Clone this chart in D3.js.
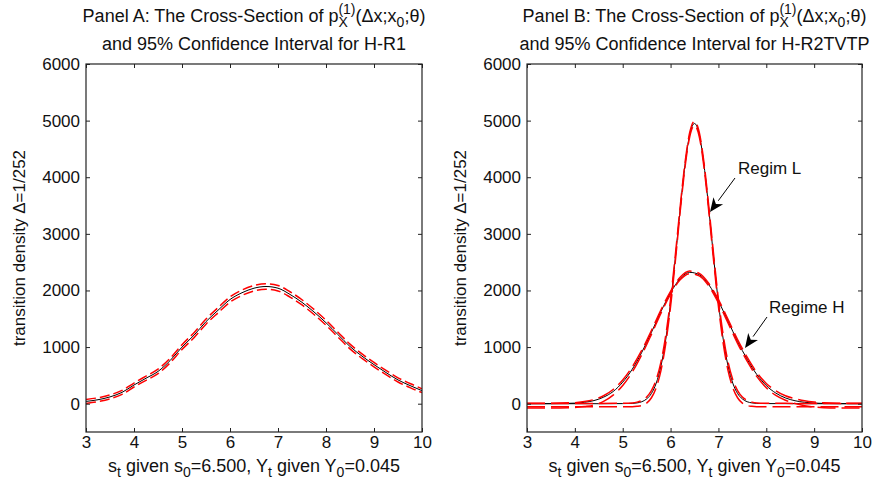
<!DOCTYPE html>
<html>
<head>
<meta charset="utf-8">
<script src="https://cdn.jsdelivr.net/npm/d3@7"></script>
<style>
  body { margin: 0; background: #fff; }
  text { font-family: "Liberation Sans", Arial, sans-serif; fill: #111; }
</style>
</head>
<body>
<div class="board"></div>
<script>
// ---- data ----
// Panel A (H-R1)
var aX    = [3, 3.25, 3.5, 3.75, 4, 4.25, 4.5, 4.75, 5, 5.25, 5.5, 5.75, 6, 6.25, 6.5, 6.75, 7, 7.25, 7.5, 7.75, 8, 8.25, 8.5, 8.75, 9, 9.25, 9.5, 9.75, 10];
var aEst  = [40, 70, 120, 200, 330, 450, 570, 760, 1000, 1210, 1450, 1650, 1840, 1960, 2040, 2070, 2040, 1930, 1790, 1620, 1430, 1220, 1010, 840, 690, 550, 420, 320, 230];
var aLow  = [5, 35, 85, 165, 295, 412, 530, 720, 958, 1166, 1405, 1604, 1793, 1912, 1992, 2022, 1992, 1883, 1744, 1575, 1386, 1177, 968, 800, 651, 512, 383, 284, 195];
var aHigh = [75, 105, 155, 235, 365, 488, 610, 800, 1042, 1254, 1495, 1696, 1887, 2008, 2088, 2118, 2088, 1977, 1836, 1665, 1474, 1263, 1052, 880, 729, 588, 457, 356, 265];

// Panel B (H-R2TVTP), regime H
var hX    = [3, 3.5, 4, 4.2, 4.4, 4.6, 4.8, 5, 5.2, 5.4, 5.6, 5.8, 6, 6.2, 6.4, 6.6, 6.8, 7, 7.2, 7.4, 7.6, 7.8, 8, 8.2, 8.4, 8.6, 8.8, 9, 9.2, 9.5, 10];
var hEst  = [0, 1, 10, 25, 55, 115, 215, 380, 610, 910, 1260, 1630, 1960, 2210, 2320, 2280, 2100, 1810, 1460, 1100, 786, 518, 320, 187, 102, 52, 25, 11, 5, 1, 0];
var hLow  = [-75, -75, -66, -50, -25, 40, 150, 322, 560, 868, 1225, 1600, 1935, 2188, 2298, 2258, 2076, 1782, 1428, 1066, 750, 482, 282, 146, 60, 2, -35, -58, -70, -75, -75];
var hHigh = [10, 10, 18, 38, 74, 140, 250, 418, 652, 946, 1292, 1658, 1984, 2232, 2342, 2302, 2124, 1838, 1492, 1134, 822, 554, 358, 228, 140, 88, 50, 28, 16, 10, 10];

// Panel B, regime L
var lX    = [3, 4.5, 5, 5.2, 5.3, 5.4, 5.5, 5.6, 5.7, 5.8, 5.9, 6, 6.1, 6.2, 6.3, 6.4, 6.5, 6.6, 6.7, 6.8, 6.9, 7, 7.1, 7.2, 7.3, 7.4, 7.5, 7.6, 7.7, 7.8, 8, 9, 10];
var lEst  = [0, 0, 2, 5, 14, 35, 84, 181, 363, 670, 1139, 1784, 2576, 3430, 4205, 4752, 4950, 4752, 4205, 3430, 2576, 1784, 1139, 670, 363, 181, 84, 35, 14, 5, 2, 0, 0];
var lLow  = [-55, -55, -54, -52, -46, -32, 10, 105, 285, 590, 1065, 1720, 2520, 3385, 4165, 4715, 4915, 4715, 4165, 3385, 2520, 1720, 1065, 590, 285, 105, 10, -32, -46, -52, -54, -55, -55];
var lHigh = [5, 5, 8, 14, 28, 58, 118, 232, 425, 740, 1210, 1845, 2630, 3475, 4245, 4790, 4990, 4790, 4245, 3475, 2630, 1845, 1210, 740, 425, 232, 118, 58, 28, 14, 8, 5, 5];

var xTicks = [3, 4, 5, 6, 7, 8, 9, 10];
var yTicks = [0, 1000, 2000, 3000, 4000, 5000, 6000];

// ---- layout ----
var width = 872, height = 486;
var plotTop = 64, plotBottom = 432;
var fs = 17, fsT = 18;

var svg = d3.select('.board').append('svg')
  .attr('width', width)
  .attr('height', height);

// rich text helper: parts = [[text, 'n'|'sub'|'supstack']]
function richText(g, cx, y, parts, size) {
  var t = g.append('text').attr('x', 0).attr('y', y).style('font-size', size + 'px');
  var small = Math.round(size * 0.8);
  var level = 0, lastSubW = 0;
  parts.forEach(function(p) {
    var s = t.append('tspan').text(p[0]);
    if (p[1] === 'sub') {
      s.style('font-size', small + 'px').attr('dy', 5 - level);
      level = 5;
      lastSubW = s.node().getComputedTextLength();
    } else if (p[1] === 'supstack') {
      // superscript stacked over the subscript before it
      s.style('font-size', small + 'px').attr('dy', -8 - level).attr('dx', -lastSubW);
      level = -8;
    } else {
      s.attr('dy', -level);
      level = 0;
    }
  });
  var w = t.node().getBBox().width;
  t.attr('x', cx - w / 2);
  return t;
}

function panel(left, right, opts) {
  var x = d3.scaleLinear().domain([3, 10]).range([left, right]);
  var y = d3.scaleLinear().domain([-500, 6000]).range([plotBottom, plotTop]);
  var g = svg.append('g');
  var cid = 'clip' + opts.id;
  svg.append('clipPath').attr('id', cid).append('rect')
    .attr('x', left).attr('y', plotTop).attr('width', right - left).attr('height', plotBottom - plotTop);

  var plot = g.append('g').attr('clip-path', 'url(#' + cid + ')');
  var line = function(xs, ys) {
    return d3.line().curve(d3.curveMonotoneX)
      .x(function(d, i) { return x(xs[i]); })
      .y(function(d) { return y(d); })(ys);
  };

  opts.series.forEach(function(s) {
    plot.append('path').attr('d', line(s.x, s.est))
      .attr('fill', 'none').attr('stroke', '#000').attr('stroke-width', 1);
  });
  opts.series.forEach(function(s) {
    [s.low, s.high].forEach(function(b) {
      plot.append('path').attr('d', line(s.x, b))
        .attr('fill', 'none').attr('stroke', '#ff0000').attr('stroke-width', 1.5)
        .attr('stroke-dasharray', opts.dash);
    });
  });

  // axes, ticks pointing in
  var axL = g.append('g').attr('transform', 'translate(' + left + ',0)')
    .call(d3.axisLeft(y).tickValues(yTicks).tickSize(-4).tickPadding(6).tickFormat(d3.format('d')));
  var axR = g.append('g').attr('transform', 'translate(' + right + ',0)')
    .call(d3.axisRight(y).tickValues(yTicks).tickSize(-4).tickFormat(''));
  var axB = g.append('g').attr('transform', 'translate(0,' + plotBottom + ')')
    .call(d3.axisBottom(x).tickValues(xTicks).tickSize(-4).tickPadding(4).tickFormat(d3.format('d')));
  var axT = g.append('g').attr('transform', 'translate(0,' + plotTop + ')')
    .call(d3.axisTop(x).tickValues(xTicks).tickSize(-4).tickFormat(''));
  [axL, axR, axB, axT].forEach(function(a) {
    a.select('.domain').remove();
    a.selectAll('line').attr('stroke', '#222');
    a.selectAll('text').style('font-size', fs + 'px').style('font-family', '"Liberation Sans", Arial, sans-serif').attr('fill', '#111');
  });

  g.append('rect').attr('x', left).attr('y', plotTop)
    .attr('width', right - left).attr('height', plotBottom - plotTop)
    .attr('fill', 'none').attr('stroke', '#222').attr('stroke-width', 1.2);

  var cx = (left + right) / 2;
  richText(g, cx, 22, [['Panel ' + opts.id + ': The Cross-Section of p', 'n'], ['X', 'sub'], ['(1)', 'supstack'],
    ['(\u0394x;x', 'n'], ['0', 'sub'], [';\u03b8)', 'n']], fsT);
  g.append('text').attr('x', cx).attr('y', 50).attr('text-anchor', 'middle')
    .style('font-size', fsT + 'px').text('and 95% Confidence Interval for ' + opts.model);

  richText(g, cx, 472, [['s', 'n'], ['t', 'sub'], [' given s', 'n'], ['0', 'sub'], ['=6.500, Y', 'n'], ['t', 'sub'],
    [' given Y', 'n'], ['0', 'sub'], ['=0.045', 'n']], fsT);

  g.append('text')
    .attr('transform', 'translate(' + (left - 61) + ',' + ((plotTop + plotBottom) / 2) + ') rotate(-90)')
    .attr('text-anchor', 'middle')
    .style('font-size', fs + 'px')
    .text('transition density \u0394=1/252');

  return { x: x, y: y, g: g };
}

var pA = panel(86, 422, {
  id: 'A', model: 'H-R1', dash: '10,4',
  series: [{ x: aX, est: aEst, low: aLow, high: aHigh }]
});
var pB = panel(527, 862, {
  id: 'B', model: 'H-R2TVTP', dash: '18,6',
  series: [{ x: hX, est: hEst, low: hLow, high: hHigh }, { x: lX, est: lEst, low: lLow, high: lHigh }]
});

// arrow annotations (panel B)
function arrow(x1, y1, x2, y2) {
  var dx = x2 - x1, dy = y2 - y1, len = Math.sqrt(dx * dx + dy * dy);
  var ux = dx / len, uy = dy / len, hl = 14, hw = 6;
  var bx = x2 - ux * hl, by = y2 - uy * hl;
  svg.append('line').attr('x1', x1).attr('y1', y1).attr('x2', bx).attr('y2', by)
    .attr('stroke', '#000').attr('stroke-width', 1);
  svg.append('path')
    .attr('d', 'M' + x2 + ',' + y2 + 'L' + (bx - uy * hw) + ',' + (by + ux * hw) +
      'L' + (bx + ux * 4) + ',' + (by + uy * 4) + 'L' + (bx + uy * hw) + ',' + (by - ux * hw) + 'Z')
    .attr('fill', '#000');
}
arrow(735, 178, 710, 212);
arrow(767, 317, 745, 348);
svg.append('text').attr('x', 738).attr('y', 174).style('font-size', fs + 'px').text('Regim L');
svg.append('text').attr('x', 769).attr('y', 313).style('font-size', fs + 'px').text('Regime H');
</script>
</body>
</html>
